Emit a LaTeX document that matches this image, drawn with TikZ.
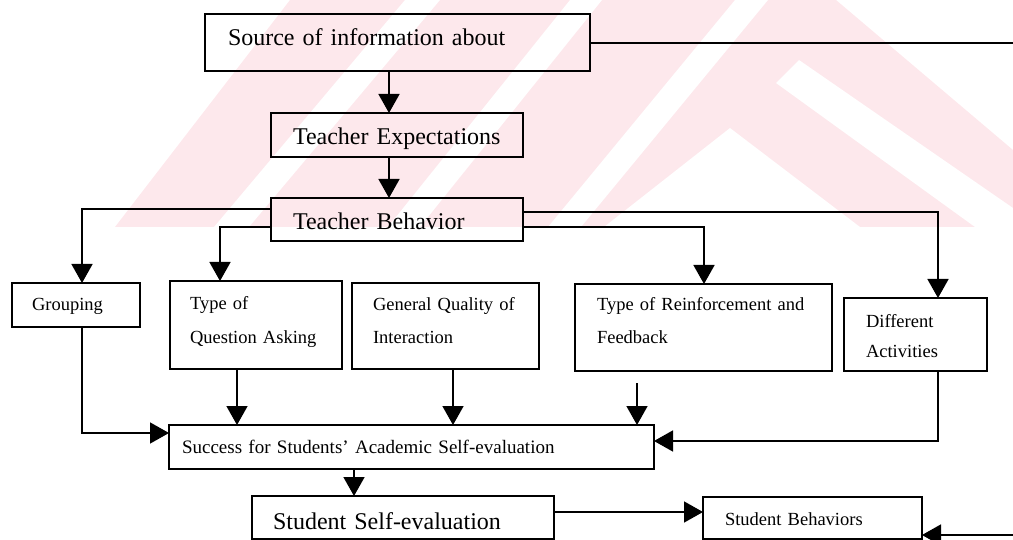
\documentclass[tikz,border=0pt]{standalone}
\usepackage{fontspec}
\setmainfont{Liberation Serif}
\usetikzlibrary{arrows.meta}
\definecolor{wm}{RGB}{253,232,236}
\newcommand{\mystrut}[2]{\rule[-#2pt]{0pt}{\dimexpr #1pt + #2pt\relax}}
\tikzset{
  box/.style={draw, line width=1.6pt, rectangle, anchor=north west, align=left, inner ysep=0pt, outer sep=0pt},
  big/.style={font=\fontsize{24}{28}\selectfont},
  conn/.style={line width=1.6pt},
  arr/.style={conn, -{Triangle[length=19pt,width=21pt]}},
  wmark/.style={fill=wm, draw=none},
  wgap/.style={fill=white, draw=none},
}
\begin{document}
\begin{tikzpicture}[x=1pt,y=-1pt]
\useasboundingbox (0,0) rectangle (1013,540);
\clip (0,0) rectangle (1013,540);
% faint watermark
\begin{scope}
  \clip (100,0) rectangle (1013,227);
  \path[wmark] (115,227) -- (290,0) -- (836,0) -- (1013,150) -- (1013,227) -- cycle;
  \path[wgap] (214,227) -- (405,0) -- (440,0) -- (249,227) -- cycle;
  \path[wgap] (388,227) -- (570,0) -- (602,0) -- (420,227) -- cycle;
  \path[wgap] (548,227) -- (735,0) -- (768,0) -- (581,227) -- cycle;
  \path[wgap] (604,227) -- (730,128) -- (860,227) -- cycle;
  \path[wgap] (776,83) -- (799,60) -- (1013,208) -- (1013,240) -- (975,227) -- cycle;
\end{scope}
% boxes
\node[box, big, minimum width=385pt, minimum height=57pt, inner xsep=23pt, text width=339pt] (source) at (205,14) {\mystrut{20}{13}Source of information about};
\node[box, big, minimum width=252pt, minimum height=44pt, inner xsep=22pt, text width=208pt] (expect) at (271,113) {\mystrut{25}{6}\mbox{Teacher Expectations}};
\node[box, big, minimum width=252pt, minimum height=43pt, inner xsep=22pt, text width=208pt] (behav) at (271,198) {\mystrut{27}{6}\mbox{Teacher Behavior}};
\node[box, font=\fontsize{18.5}{33}\selectfont, minimum width=128pt, minimum height=44pt, inner xsep=20pt, text width=88pt] (group) at (12,283) {\mystrut{16}{4}Grouping};
\node[box, font=\fontsize{18.5}{34}\selectfont, minimum width=172pt, minimum height=88pt, inner xsep=20pt, text width=132pt] (qa) at (170,281) {\mystrut{16}{0}Type of\\Question Asking\mystrut{0}{12}};
\node[box, font=\fontsize{18.5}{33}\selectfont, minimum width=187pt, minimum height=86pt, inner xsep=21pt, text width=145pt] (gq) at (352,283) {\mystrut{16}{0}General Quality of\\Interaction\mystrut{0}{13}};
\node[box, font=\fontsize{18.5}{33}\selectfont, minimum width=257pt, minimum height=87pt, inner xsep=22pt, text width=213pt] (reinf) at (575,284) {\mystrut{16}{0}Type of Reinforcement and\\Feedback\mystrut{0}{16}};
\node[box, font=\fontsize{18.5}{31}\selectfont, minimum width=143pt, minimum height=73pt, inner xsep=22pt, text width=99pt] (diff) at (844,298) {\mystrut{20}{0}Different\\Activities\mystrut{0}{4}};
\node[box, font=\fontsize{19}{24}\selectfont, minimum width=485pt, minimum height=44pt, inner xsep=13pt, text width=459pt] (success) at (169,425) {\mystrut{18}{6}Success for Students' Academic Self-evaluation};
\node[box, big, minimum width=302pt, minimum height=43pt, inner xsep=21pt, text width=260pt] (selfev) at (252,496) {\mystrut{30}{6}Student Self-evaluation};
\node[box, font=\fontsize{18.5}{24}\selectfont, minimum width=219pt, minimum height=42pt, inner xsep=22pt, text width=175pt] (sbeh) at (703,497) {\mystrut{20}{6}Student Behaviors};
% connectors
\coordinate (k1) at (389,0);
\draw[arr] (k1 |- source.south) -- (k1 |- expect.north);
\draw[arr] (k1 |- expect.south) -- (k1 |- behav.north);
\coordinate (kg) at (82,209);
\draw[arr] (kg -| behav.west) -- (kg) -- (kg |- group.north);
\coordinate (kq) at (220,227);
\draw[arr] (kq -| behav.west) -- (kq) -- (kq |- qa.north);
\coordinate (kd) at (938,212);
\draw[arr] (kd -| behav.east) -- (kd) -- (kd |- diff.north);
\coordinate (kr) at (704,227);
\draw[arr] (kr -| behav.east) -- (kr) -- (kr |- reinf.north);
\coordinate (kg2) at (82,433);
\draw[arr] (kg2 |- group.south) -- (kg2) -- (kg2 -| success.west);
\coordinate (kq2) at (237,0);
\draw[arr] (kq2 |- qa.south) -- (kq2 |- success.north);
\coordinate (kgq) at (453,0);
\draw[arr] (kgq |- gq.south) -- (kgq |- success.north);
\coordinate (kr2) at (637,383);
\draw[arr] (kr2) -- (kr2 |- success.north);
\coordinate (kd2) at (938,441);
\draw[arr] (kd2 |- diff.south) -- (kd2) -- (kd2 -| success.east);
\coordinate (ks) at (354,0);
\draw[arr] (ks |- success.south) -- (ks |- selfev.north);
\coordinate (kb) at (0,512);
\draw[arr] (kb -| selfev.east) -- (kb -| sbeh.west);
\coordinate (kf) at (1040,535);
\coordinate (kt) at (1040,43);
\draw[arr] (kt -| source.east) -- (kt) -- (kf) -- (kf -| sbeh.east);
\end{tikzpicture}
\end{document}
